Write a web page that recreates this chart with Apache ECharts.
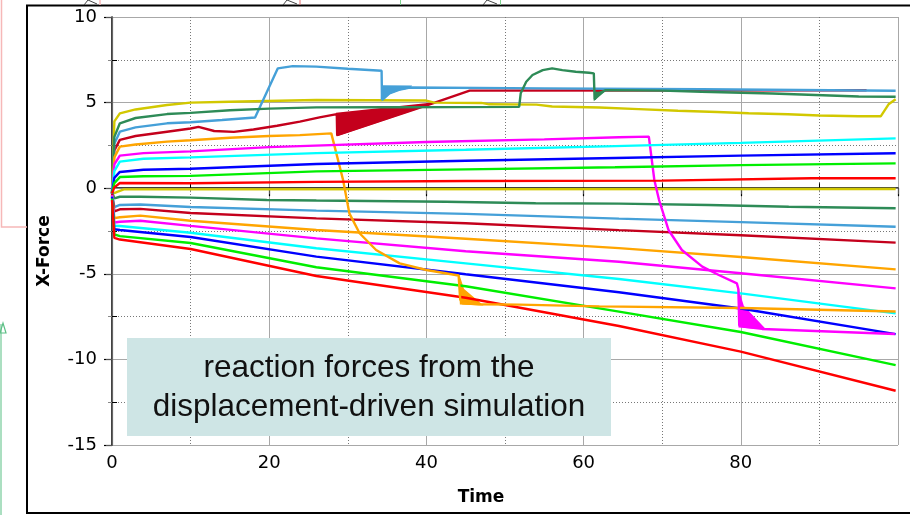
<!DOCTYPE html>
<html>
<head>
<meta charset="utf-8">
<script src="https://cdn.jsdelivr.net/npm/echarts@6/dist/echarts.min.js"></script>
<style>
html,body{margin:0;padding:0;background:#fff;}
#c{width:910px;height:515px;}
</style>
</head>
<body>
<div id="c"></div>
<script>
// ---- tick labels / axes ----
const xTicks = [0, 20, 40, 60, 80];
const yTicks = [-15, -10, -5, 0, 5, 10];
const xTitle = 'Time';
const yTitle = 'X-Force';
const noteLines = ['reaction forces from the', 'displacement-driven simulation'];

// ---- colours of the 10 repeated series ----
const colorNames = ['yellow','darkgreen','lightblue','crimson','orange','magenta','cyan','blue','green','red'];
const colors = ['#d2c800','#2e8b57','#45a0d8','#c4001c','#ffa500','#ff00ff','#00ffff','#0000ff','#00ee00','#ff0000'];

// ---- lower group (drawn first) ----
const lowYellow   = [[0,-0.3],[0.5,-0.25],[1.5,-0.07],[99.7,-0.05]];
const lowDkGreen  = [[0,-0.2],[0.3,-0.6],[1,-0.5],[3.6,-0.5],[10,-0.55],[19.7,-0.69],[26,-0.72],[42.5,-0.79],[53.9,-0.88],[64.5,-0.9],[75.9,-0.98],[86.1,-1.08],[99.7,-1.17]];
const lowLtBlue   = [[0,-0.3],[0.3,-1.1],[1,-0.98],[3.6,-0.95],[10,-1.1],[26,-1.31],[45,-1.5],[64.5,-1.78],[80,-1.98],[99.7,-2.25]];
const lowCrimson  = [[0,-0.3],[0.3,-1.35],[1,-1.23],[3.6,-1.21],[10,-1.45],[26,-1.76],[45,-2.05],[64.5,-2.45],[80,-2.75],[99.7,-3.18]];
const lowOrange   = [[0,-0.4],[0.3,-1.75],[1,-1.7],[3.6,-1.6],[10,-1.9],[26,-2.44],[45,-2.95],[64.5,-3.5],[80,-4.02],[99.7,-4.74]];
const lowMagenta  = [[0,-0.4],[0.3,-2.0],[1,-1.96],[3.6,-1.9],[10,-2.2],[26,-2.93],[45,-3.68],[64.5,-4.3],[80,-4.97],[99.7,-5.85]];
const lowCyan     = [[0,-0.5],[0.3,-2.2],[1,-2.21],[10,-2.6],[26,-3.51],[45,-4.39],[64.5,-5.3],[80,-6.14],[99.7,-7.31]];
const lowBlue     = [[0,-0.5],[0.3,-2.4],[1,-2.44],[10,-2.85],[26,-4.0],[45,-5.03],[64.5,-6.08],[80,-7.03],[99.7,-8.52]];
const lowGreen    = [[0,-0.6],[0.3,-2.7],[1,-2.8],[10,-3.2],[26,-4.62],[45,-5.73],[64.5,-7.21],[80,-8.4],[99.7,-10.33]];
const lowRed      = [[0,-0.7],[0.3,-2.9],[1,-3.0],[10,-3.55],[26,-5.13],[45,-6.4],[64.5,-8.05],[80,-9.55],[99.7,-11.83]];

// ---- upper group ----
const upYellow  = [[0,-0.3],[0.3,3.9],[1,4.37],[3,4.6],[7,4.86],[10,5.0],[15,5.05],[26,5.15],[40,5.12],[41,5.0],[47,4.98],[48,4.9],[54,4.88],[56,4.77],[62,4.71],[67,4.62],[72,4.52],[77,4.45],[81,4.38],[86,4.32],[90,4.25],[95,4.2],[97.8,4.2],[98.8,4.9],[99.7,5.2]];
const upDkGreen = [[0,-0.3],[0.3,3.0],[1,3.79],[3,4.1],[7,4.33],[10,4.4],[15,4.55],[20,4.65],[26,4.72],[35,4.73],[51.8,4.75],[52,5.54],[52.7,6.22],[53.5,6.61],[54.8,6.9],[56,7.0],[57.3,6.9],[59,6.8],[60.7,6.74],[61.3,6.71],[61.4,5.18],[61.8,5.5],[62.8,5.73],[70,5.7],[75,5.63],[84,5.53],[95,5.36],[99.7,5.34]];
const upLtBlue  = [[0,-0.3],[0.3,2.6],[1,3.3],[3,3.55],[7,3.79],[10,3.85],[14,3.98],[18.2,4.13],[21.1,7.0],[23,7.13],[26,7.1],[30,6.98],[34.3,6.86],[34.35,5.15],[35.3,5.54],[36.5,5.75],[37.9,5.88],[55,5.83],[75,5.78],[99.7,5.69]];
const upCrimson = [[0,-0.3],[0.3,2.2],[1,2.82],[3,3.05],[7,3.3],[10,3.49],[11,3.58],[13,3.34],[15.5,3.29],[18,3.43],[21,3.65],[23.9,3.89],[26.4,4.14],[28.6,4.33],[28.65,3.1],[40.8,4.96],[45.5,5.7],[96,5.72]];
const upOrange  = [[0,-0.3],[0.3,1.8],[1,2.43],[3,2.55],[7,2.72],[10,2.8],[15,2.95],[20,3.05],[23.9,3.1],[27.9,3.2],[29.4,0.48],[30.2,-1.47],[31.5,-2.63],[33.6,-3.61],[36.6,-4.39],[40,-4.78],[44.1,-5.1],[44.3,-6.5],[44.6,-6.72],[46.7,-6.78],[51.8,-6.8],[62,-6.9],[80,-7.0],[99.7,-7.2]];
const upMagenta = [[0,-0.3],[0.3,1.4],[1,1.9],[4,2.05],[10,2.15],[20,2.4],[23.9,2.46],[40,2.7],[55,2.85],[64.5,2.98],[68.3,3.01],[69,0.48],[69.6,-0.69],[70.8,-2.44],[72.5,-3.61],[75.1,-4.58],[77.2,-5.07],[79.5,-5.56],[79.7,-5.9],[79.8,-8.0],[80.5,-8.1],[82.7,-8.22],[99.6,-8.52]];
const upCyan    = [[0,-0.3],[0.3,1.0],[1,1.55],[4,1.72],[10,1.8],[26,2.05],[45,2.25],[64,2.46],[80,2.65],[99.7,2.91]];
const upBlue    = [[0,-0.3],[0.3,0.6],[1,0.95],[4,1.08],[10,1.14],[26,1.41],[45,1.6],[64,1.76],[80,1.9],[99.7,2.04]];
const upGreen   = [[0,-0.3],[0.3,0.3],[1,0.65],[4,0.7],[10,0.72],[26,0.98],[45,1.1],[64,1.22],[80,1.35],[99.7,1.45]];
const upRed     = [[0,-0.3],[0.3,0.05],[1,0.3],[10,0.29],[26,0.37],[45,0.42],[70,0.44],[89,0.58],[99.7,0.58]];

// ---- oscillation bands (filled) ----
const crimsonBand = [[28.6,4.37],[28.65,3.1],[40.8,4.96]];
const ltBlueBand  = [[34.3,5.15],[34.35,5.97],[38,5.95],[37.9,5.88],[36.5,5.75],[35.3,5.54]];
const orangeBand  = [[44.2,-5.2],[44.35,-6.75],[47,-6.8],[44.7,-5.9]];
const magentaBand = [[79.7,-6.0],[79.8,-8.1],[83,-8.2],[80.3,-6.9]];
const greenDip    = [[61.4,5.18],[61.5,5.75],[62.8,5.73]];

const lowGroup = [lowYellow, lowDkGreen, lowLtBlue, lowCrimson, lowOrange, lowMagenta, lowCyan, lowBlue, lowGreen, lowRed];
const upGroup  = [upYellow, upDkGreen, upLtBlue, upCrimson, upOrange, upMagenta, upCyan, upBlue, upGreen, upRed];
// drawing order of the upper group (crimson under light blue / dark green)
const upOrder  = [3, 0, 2, 1, 4, 5, 6, 7, 8, 9];

const series = [];
function lineSeries(data, color, name) {
  return {
    type: 'line', name: name, data: data, showSymbol: false, symbol: 'none',
    lineStyle: { color: color, width: 2.4 }, itemStyle: { color: color },
    silent: true, animation: false, z: 3
  };
}
lowGroup.forEach((d, i) => series.push(lineSeries(d, colors[i], 'low-' + colorNames[i])));
upOrder.forEach(i => series.push(lineSeries(upGroup[i], colors[i], 'up-' + colorNames[i])));

function bandSeries(points, color) {
  return {
    type: 'custom', coordinateSystem: 'cartesian2d', data: points,
    encode: { x: 0, y: 1 }, silent: true, animation: false, z: 3,
    renderItem: function (params, api) {
      if (params.dataIndex !== 0) return null;
      return {
        type: 'polygon',
        shape: { points: points.map(p => api.coord(p)) },
        style: { fill: color, stroke: color, lineWidth: 1.5 }
      };
    }
  };
}
series.push(bandSeries(crimsonBand, colors[3]));
series.push(bandSeries(ltBlueBand, colors[2]));
series.push(bandSeries(orangeBand, colors[4]));
series.push(bandSeries(magentaBand, colors[5]));
series.push(bandSeries(greenDip, colors[1]));

const font = 'DejaVu Sans';
const chart = echarts.init(document.getElementById('c'), null, { renderer: 'canvas' });
chart.setOption({
  animation: false,
  backgroundColor: '#ffffff',
  grid: { left: 112, right: 12, top: 17, bottom: 70, containLabel: false },
  xAxis: [{
    type: 'value', position: 'bottom', min: xTicks[0], max: 100, interval: 20,
    axisLine: { show: true, lineStyle: { color: '#000', width: 1.5 } },
    axisTick: { show: true, length: 8, lineStyle: { color: '#000', width: 1.2 } },
    minorTick: { show: true, splitNumber: 2, length: -5, lineStyle: { color: '#000', width: 1 } },
    axisLabel: { show: true, color: '#000', fontFamily: font, fontSize: 18, margin: 9, showMaxLabel: false,
      formatter: v => (xTicks.indexOf(v) >= 0 ? String(v) : '') },
    splitLine: { show: true, lineStyle: { color: '#a8a8a8', width: 1 } },
    minorSplitLine: { show: true, lineStyle: { color: '#777', width: 1, type: [1, 2] } }
  }, {
    type: 'value', position: 'top', min: xTicks[0], max: 100, interval: 20,
    axisLine: { show: true, lineStyle: { color: '#888', width: 1 } },
    axisTick: { show: true, inside: true, length: 6, lineStyle: { color: '#555' } },
    minorTick: { show: true, splitNumber: 2, length: 4, lineStyle: { color: '#888' } },
    axisLabel: { show: false }, splitLine: { show: false }
  }],
  yAxis: [{
    type: 'value', position: 'left', min: yTicks[0], max: yTicks[yTicks.length - 1], interval: 5,
    axisLine: { show: true, lineStyle: { color: '#000', width: 1.5 } },
    axisTick: { show: true, length: 8, lineStyle: { color: '#000', width: 1.2 } },
    minorTick: { show: true, splitNumber: 2, length: -5, lineStyle: { color: '#000', width: 1 } },
    axisLabel: { show: true, color: '#000', fontFamily: font, fontSize: 18, margin: 15,
      formatter: v => (yTicks.indexOf(v) >= 0 ? String(v) : '') },
    splitLine: { show: true, lineStyle: { color: '#a8a8a8', width: 1 } },
    minorSplitLine: { show: true, lineStyle: { color: '#777', width: 1, type: [1, 2] } }
  }, {
    type: 'value', position: 'right', min: yTicks[0], max: yTicks[yTicks.length - 1], interval: 5,
    axisLine: { show: true, lineStyle: { color: '#666', width: 1.2 } },
    axisTick: { show: true, inside: true, length: 6, lineStyle: { color: '#555' } },
    minorTick: { show: true, splitNumber: 2, length: 4, lineStyle: { color: '#888' } },
    axisLabel: { show: false }, splitLine: { show: false }
  }],
  series: series,
  graphic: [
    // outer frame
    { type: 'rect', shape: { x: 27, y: 5.5, width: 895, height: 507.5 }, style: { fill: null, stroke: '#000', lineWidth: 2 }, z: 0, silent: true },
    // stray decorations outside the frame
    { type: 'polyline', shape: { points: [[1.5, 0], [1.5, 227], [27, 227]] }, style: { fill: null, stroke: '#f6b8b8', lineWidth: 1.5 }, silent: true },
    { type: 'line', shape: { x1: 100, y1: 0, x2: 100, y2: 5 }, style: { stroke: '#f6b8b8', lineWidth: 1.5 }, silent: true },
    { type: 'line', shape: { x1: 300, y1: 0, x2: 300, y2: 5 }, style: { stroke: '#e07070', lineWidth: 1 }, silent: true },
    { type: 'line', shape: { x1: 400.5, y1: 0, x2: 400.5, y2: 5 }, style: { stroke: '#80d090', lineWidth: 1 }, silent: true },
    { type: 'line', shape: { x1: 500.5, y1: 0, x2: 500.5, y2: 5 }, style: { stroke: '#80d090', lineWidth: 1 }, silent: true },
    { type: 'polyline', shape: { points: [[283, 5], [287, 0], [297, 4]] }, style: { fill: null, stroke: '#444', lineWidth: 1 }, silent: true },
    { type: 'polyline', shape: { points: [[483, 5], [487, 0], [497, 4]] }, style: { fill: null, stroke: '#444', lineWidth: 1 }, silent: true },
    { type: 'polyline', shape: { points: [[84, 5], [88, 0], [97, 4]] }, style: { fill: null, stroke: '#444', lineWidth: 1 }, silent: true },
    { type: 'line', shape: { x1: 1, y1: 324, x2: 1, y2: 515 }, style: { stroke: '#8fd4ad', lineWidth: 1.5 }, silent: true },
    { type: 'polygon', shape: { points: [[0, 333], [3, 323], [6, 333]] }, style: { fill: null, stroke: '#5cbf85', lineWidth: 1.2 }, silent: true },
    // axis titles
    { type: 'text', x: 45, y: 251, rotation: Math.PI / 2, style: { text: yTitle, font: 'bold 17px "DejaVu Sans"', fill: '#000', textAlign: 'center', textVerticalAlign: 'middle' }, silent: true },
    { type: 'text', x: 481, y: 498, style: { text: xTitle, font: 'bold 17px "DejaVu Sans"', fill: '#000', textAlign: 'center', textVerticalAlign: 'middle' }, silent: true },
    // annotation box
    { type: 'rect', shape: { x: 127, y: 338, width: 484, height: 98 }, style: { fill: '#cee5e5' }, z: 100, silent: true },
    { type: 'text', x: 369, y: 368, z: 101, style: { text: noteLines[0], font: '31.5px "Liberation Sans"', fill: '#111', textAlign: 'center', textVerticalAlign: 'middle' }, silent: true },
    { type: 'text', x: 369, y: 407, z: 101, style: { text: noteLines[1], font: '31.5px "Liberation Sans"', fill: '#111', textAlign: 'center', textVerticalAlign: 'middle' }, silent: true }
  ]
});
</script>
</body>
</html>
